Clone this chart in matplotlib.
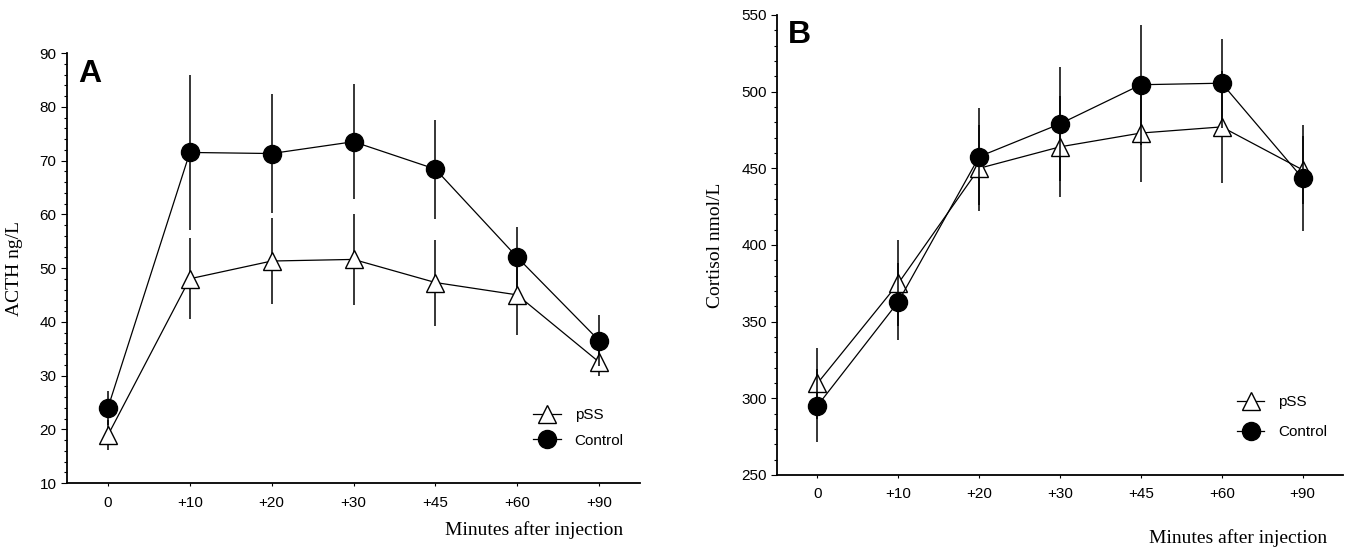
import numpy as np
import matplotlib.pyplot as plt
from matplotlib.lines import Line2D
from matplotlib.ticker import MultipleLocator

plt.rcParams['font.family'] = 'Liberation Sans'

# donnees
temps = ['0', '+10', '+20', '+30', '+45', '+60', '+90']

acth_pss = [18.9, 48.0, 51.3, 51.6, 47.3, 45.0, 32.5]
acth_pss_err = [2.8, 7.5, 8.0, 8.5, 8.0, 7.5, 2.5]
acth_ctrl = [24.0, 71.5, 71.3, 73.5, 68.4, 52.0, 36.5]
acth_ctrl_err = [3.2, 14.5, 11.0, 10.7, 9.2, 5.6, 4.7]

cort_pss = [309.8, 375.0, 450.0, 464.0, 473.0, 477.0, 449.0]
cort_pss_err = [23.0, 28.0, 28.0, 33.0, 32.0, 36.5, 22.0]
cort_ctrl = [295.2, 363.0, 457.6, 479.0, 504.5, 505.5, 443.5]
cort_ctrl_err = [24.0, 25.0, 31.5, 37.0, 39.0, 29.0, 34.5]


def trace(ax, pss, pss_err, ctrl, ctrl_err):
    x = np.arange(len(temps))
    ax.errorbar(x, pss, yerr=pss_err, fmt='-', color='black', lw=0.9,
                elinewidth=1.1, capsize=0, marker='^', ms=13,
                mfc='white', mec='black', mew=1.0, zorder=3)
    ax.errorbar(x, ctrl, yerr=ctrl_err, fmt='-', color='black', lw=0.9,
                elinewidth=1.1, capsize=0, marker='o', ms=13,
                mfc='black', mec='black', zorder=4)
    ax.set_xticks(x)
    ax.set_xticklabels(temps)
    ax.set_xlim(-0.5, 6.5)
    ax.spines['top'].set_visible(False)
    ax.spines['right'].set_visible(False)
    ax.spines['left'].set_linewidth(1.3)
    ax.spines['bottom'].set_linewidth(1.3)
    ax.tick_params(axis='both', labelsize=11, direction='out', length=4, width=0.8)
    ax.tick_params(axis='x', length=2, pad=7)
    ax.tick_params(axis='y', which='minor', length=2.5, width=0.8)


fig = plt.figure(figsize=(13.46, 5.5), dpi=100)

axA = fig.add_axes([0.0498, 0.1218, 0.4257, 0.7818])
trace(axA, acth_pss, acth_pss_err, acth_ctrl, acth_ctrl_err)
axA.set_ylim(10, 90)
axA.yaxis.set_major_locator(MultipleLocator(10))
axA.yaxis.set_minor_locator(MultipleLocator(2))
axA.set_ylabel('ACTH ng/L', family='Liberation Serif', fontsize=14, labelpad=12)
axA.set_xlabel('Minutes after injection', family='Liberation Serif', fontsize=14)
axA.xaxis.set_label_coords(0.815, -0.088)
axA.text(0.02, 0.985, 'A', transform=axA.transAxes, fontsize=23,
         fontweight='bold', va='top', ha='left')

axB = fig.add_axes([0.5773, 0.1364, 0.4205, 0.8364])
trace(axB, cort_pss, cort_pss_err, cort_ctrl, cort_ctrl_err)
axB.set_ylim(250, 550)
axB.yaxis.set_major_locator(MultipleLocator(50))
axB.yaxis.set_minor_locator(MultipleLocator(10))
axB.set_ylabel('Cortisol nmol/L', family='Liberation Serif', fontsize=14, labelpad=12)
axB.set_xlabel('Minutes after injection', family='Liberation Serif', fontsize=14)
axB.xaxis.set_label_coords(0.815, -0.117)
axB.text(0.02, 0.99, 'B', transform=axB.transAxes, fontsize=23,
         fontweight='bold', va='top', ha='left')

# legendes
poignees = [
    Line2D([], [], color='black', lw=0.9, marker='^', ms=13, mfc='white', mec='black'),
    Line2D([], [], color='black', lw=0.9, marker='o', ms=13, mfc='black', mec='black'),
]
axA.legend(poignees, ['pSS', 'Control'], loc='center left',
           bbox_to_anchor=(0.79, 0.128), frameon=False, fontsize=11,
           handlelength=1.8, labelspacing=0.75, handletextpad=0.9)
axB.legend(poignees, ['pSS', 'Control'], loc='center left',
           bbox_to_anchor=(0.788, 0.126), frameon=False, fontsize=11,
           handlelength=1.8, labelspacing=1.05, handletextpad=0.9)

plt.savefig('out.png', dpi=100)
